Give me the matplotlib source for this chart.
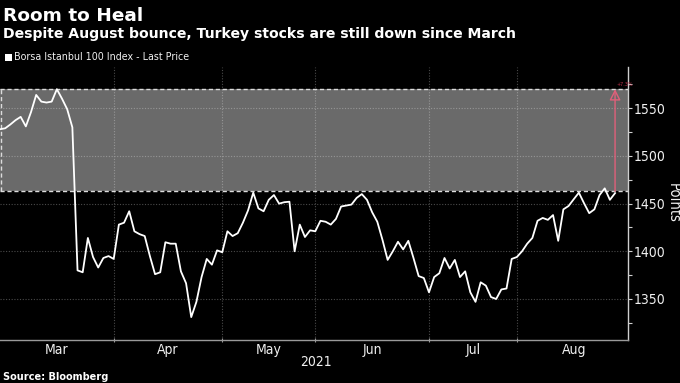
import matplotlib
matplotlib.use("Agg")
import matplotlib.pyplot as plt
from matplotlib.patches import Rectangle, FancyArrowPatch
from matplotlib import font_manager

# ---------------- data (trading-day index -> Borsa Istanbul 100, points) ----------------
prices = [
    1528, 1529, 1533, 1537.5, 1541, 1531, 1546, 1564, 1557, 1556,
    1557, 1570, 1560, 1549, 1530, 1380, 1378, 1414, 1394, 1383,
    1393, 1395, 1392, 1428, 1430, 1442, 1421, 1418, 1416, 1395,
    1376, 1378, 1409.5, 1408, 1408, 1379, 1366.5, 1331, 1347, 1373,
    1392, 1386, 1401, 1399, 1421, 1416, 1419, 1430, 1443, 1461.5,
    1445, 1442, 1454, 1459, 1450, 1451.5, 1452, 1400, 1428, 1415,
    1422, 1421, 1432, 1431, 1428, 1434, 1447, 1448, 1449, 1456,
    1460, 1454, 1441, 1431, 1412, 1391, 1400, 1410, 1402, 1411,
    1393, 1374, 1372, 1357, 1373, 1377, 1393, 1382, 1391, 1373,
    1379, 1357, 1347, 1367.5, 1364, 1352, 1350, 1360, 1361, 1392,
    1394, 1400, 1408, 1414, 1432, 1435, 1433, 1438, 1411, 1444,
    1447.5, 1454.6, 1461.5, 1450.4, 1440, 1444, 1459, 1466, 1454, 1461,
]
month_labels = ["Mar", "Apr", "May", "Jun", "Jul", "Aug"]
month_bounds = [0, 22, 43, 61, 83, 100, 122]   # trading-day index where each month starts
year_label = "2021"
band_low = 1463      # current level
band_high = max(prices)  # March high
change_label = "+7.3%"
y_ticks = [1350, 1400, 1450, 1500, 1550]

title = "Room to Heal"
subtitle = "Despite August bounce, Turkey stocks are still down since March"
legend_label = "Borsa Istanbul 100 Index - Last Price"
source = "Source: Bloomberg"
y_label = "Points"

# ---------------- fonts ----------------
available = {f.name for f in font_manager.fontManager.ttflist}
if "Liberation Sans Narrow" in available:
    NF = ["Liberation Sans Narrow", "DejaVu Sans"]
    NSTRETCH = "normal"
else:
    NF = ["DejaVu Sans"]
    NSTRETCH = "condensed"
NK = dict(family=NF, fontstretch=NSTRETCH)

BG = "black"
FG = "#f0f0f0"

fig = plt.figure(figsize=(6.8, 3.83), dpi=100, facecolor=BG)
ax = fig.add_axes([0.0, 0.1123, 0.9235, 0.7128], facecolor=BG)

x = list(range(len(prices)))
ax.set_xlim(0, 121.5)
ax.set_ylim(1307, 1593.3)

# grid
for yv in y_ticks:
    ax.axhline(yv, color="#4a4a4a", lw=0.8, ls=(0, (1, 1.5)), zorder=0.5)
for b in month_bounds[1:-1]:
    ax.axvline(b, color="#4a4a4a", lw=0.8, ls=(0, (1, 1.5)), zorder=0.5)

# shaded band
ax.add_patch(Rectangle((0, band_low), 121.5, band_high - band_low,
                       facecolor="white", alpha=0.42, edgecolor="none", zorder=1))
for yv in (band_low, band_high):
    ax.plot([0, 121.5], [yv, yv], color="#dcdcdc", lw=1.0, ls=(0, (3, 2)), zorder=2)
ax.plot([0.15, 0.15], [band_low, band_high], color="#dcdcdc", lw=1.0, ls=(0, (3, 2)), zorder=2)

# price line
ax.plot(x, prices, color="white", lw=1.3, zorder=3, solid_joinstyle="round")

# red arrow
xa = len(prices) - 1
arr = FancyArrowPatch((xa, band_low), (xa, band_high),
                      arrowstyle="-|>,head_width=0.28,head_length=0.55",
                      mutation_scale=12, edgecolor="#e0607a", facecolor="none", lw=1.0, zorder=4,
                      shrinkA=0, shrinkB=0)
ax.add_patch(arr)
ax.text(xa + 0.2, band_high + 2.5, change_label, color="#c0304a", fontsize=3.5,
        ha="left", va="bottom", zorder=4)

# axes styling
for s in ("top", "left"):
    ax.spines[s].set_visible(False)
ax.spines["right"].set_color("#cfcfcf")
ax.spines["bottom"].set_color("#9a9a9a")
ax.spines["right"].set_linewidth(1.0)
ax.spines["bottom"].set_linewidth(1.0)

ax.yaxis.tick_right()
ax.set_yticks(y_ticks)
ax.set_yticks([v + 25 for v in [1300] + y_ticks], minor=True)
ax.tick_params(axis="y", which="major", length=3, width=0.8, color="#cfcfcf", labelcolor=FG,
               labelsize=10, pad=1)
ax.tick_params(axis="y", which="minor", length=3, width=0.8, color="#cfcfcf")
for t in ax.get_yticklabels():
    t.set_family(NF)
    t.set_fontstretch(NSTRETCH)

ax.set_xticks(month_bounds[1:-1])
ax.set_xticklabels([])
ax.tick_params(axis="x", which="major", length=3, width=0.8, color="#9a9a9a", direction="inout")
mids = [(month_bounds[i] + month_bounds[i + 1]) / 2 for i in range(len(month_labels))]
ax.set_xticks(mids, minor=True)
ax.set_xticklabels(month_labels, minor=True)
ax.tick_params(axis="x", which="minor", length=0, labelcolor=FG, labelsize=10, pad=2)
for t in ax.get_xticklabels(minor=True):
    t.set_family(NF)
    t.set_fontstretch(NSTRETCH)

fig.text(673.5 / 680, 1 - 203 / 383, y_label, color=FG, fontsize=10.5, rotation=270,
         va="center", ha="center", **NK)

# texts
fig.text(3 / 680, 1 - 16 / 383, title, color="white", fontsize=13.3, fontweight="bold",
         va="center", ha="left", family="DejaVu Sans")
fig.text(3 / 680, 1 - 34 / 383, subtitle, color="white", fontsize=10.1, fontweight="bold",
         va="center", ha="left", family="DejaVu Sans")
fig.patches.append(Rectangle((5 / 680, 1 - 61 / 383), 7 / 680, 7 / 383, transform=fig.transFigure,
                             facecolor="white", edgecolor="none"))
fig.text(14 / 680, 1 - 57.5 / 383, legend_label, color=FG, fontsize=7.7, va="center", ha="left",
         **NK)
fig.text(316 / 680, 1 - 362 / 383, year_label, color=FG, fontsize=10, va="center", ha="center",
         **NK)
fig.text(3 / 680, 1 - 377 / 383, source, color="white", fontsize=7.8, fontweight="bold",
         va="center", ha="left", **NK)

fig.savefig("out.png", dpi=100, facecolor=BG)
